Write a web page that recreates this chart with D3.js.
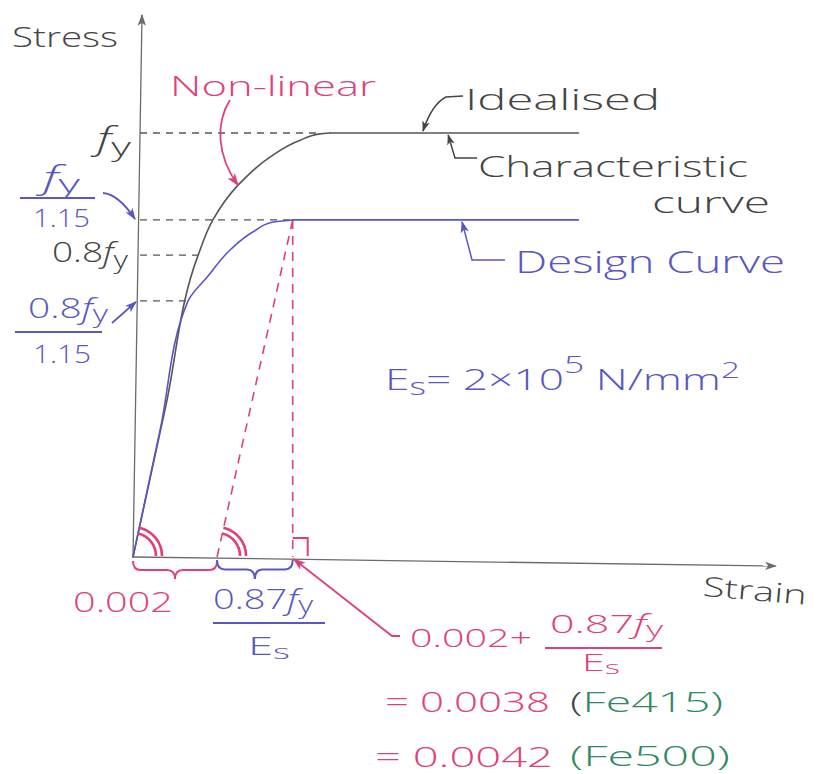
<!DOCTYPE html>
<html>
<head>
<meta charset="utf-8">
<script src="https://cdn.jsdelivr.net/npm/d3@7"></script>
<style>
  html, body { margin: 0; padding: 0; background: #ffffff; }
  svg { display: block; }
  text { font-family: "Open Sans", "Lato", "DejaVu Sans", sans-serif; font-weight: 300; }
</style>
</head>
<body>
<svg id="chart" width="823" height="774"></svg>
<script>
// Stress–strain curves for reinforcing steel (stress in units of fy, strain absolute)
const charStrain   = [0, 0.00078, 0.00155, 0.00190, 0.00250, 0.00326, 0.00398, 0.00445, 0.00469, 0.0106];
const charStress   = [0, 0.356,   0.712,   0.795,   0.877,   0.943,   0.983,   0.998,   1.0,     1.0];
const designStrain = [0, 0.00065, 0.00131, 0.00178, 0.00231, 0.00286, 0.00333, 0.0038, 0.0106];
const designStress = [0, 0.302,   0.604,   0.662,   0.724,   0.767,   0.790,   0.795,  0.795];

// Stress reference levels on the vertical axis and where their guide lines stop
const stressLevels   = [1.0, 0.795, 0.712, 0.604];
const stressGuideEnd = [0.00445, 0.0038, 0.00155, 0.00131];

// Strain marks on the horizontal axis
const offsetStrain  = 0.002;   // 0.002 offset
const yieldStrain   = 0.0038;  // 0.002 + 0.87fy/Es for Fe415
const strainAxisMax = 0.0153;

const COL = {
  axis: "#6b6b6b", ink: "#444444", red: "#e0407a", blue: "#5a56c2", green: "#2f8a62"
};

const svg = d3.select("#chart");
const x = d3.scaleLinear().domain([0, strainAxisMax]).range([133, 776]);
const y = d3.scaleLinear().domain([0, 1]).range([557, 133]);

// arrowhead markers
const defs = svg.append("defs");
function marker(id, color, size) {
  defs.append("marker").attr("id", id)
    .attr("viewBox", "0 0 10 10").attr("refX", 9).attr("refY", 5)
    .attr("markerWidth", size).attr("markerHeight", size)
    .attr("markerUnits", "userSpaceOnUse").attr("orient", "auto")
    .append("path").attr("d", "M0,1.5 L10,5 L0,8.5 L2.5,5 Z").attr("fill", color);
}
marker("arGray", COL.axis, 12);
marker("arInk", COL.ink, 11);
marker("arRed", COL.red, 13);
marker("arBlue", COL.blue, 12);

// axes
svg.append("line")
  .attr("x1", x(0)).attr("y1", y(0)).attr("x2", x(0) + 9).attr("y2", 15)
  .attr("stroke", COL.axis).attr("stroke-width", 1.3).attr("marker-end", "url(#arGray)");
svg.append("line")
  .attr("x1", x(0)).attr("y1", y(0)).attr("x2", x(strainAxisMax)).attr("y2", y(0) + 9)
  .attr("stroke", COL.axis).attr("stroke-width", 1.3).attr("marker-end", "url(#arGray)");

// dashed stress guides
stressLevels.forEach((s, i) => {
  svg.append("line")
    .attr("x1", x(0) + 7).attr("x2", x(stressGuideEnd[i]))
    .attr("y1", y(s)).attr("y2", y(s))
    .attr("stroke", "#555").attr("stroke-width", 1.3)
    .attr("stroke-dasharray", "7,6");
});

// construction lines for the design yield strain
const designYieldStress = d3.max(designStress);
svg.append("line")
  .attr("x1", x(offsetStrain)).attr("y1", y(0))
  .attr("x2", x(yieldStrain)).attr("y2", y(designYieldStress))
  .attr("stroke", COL.red).attr("stroke-width", 1.6).attr("stroke-dasharray", "9,7");
svg.append("line")
  .attr("x1", x(yieldStrain)).attr("y1", y(designYieldStress))
  .attr("x2", x(yieldStrain)).attr("y2", y(0))
  .attr("stroke", COL.red).attr("stroke-width", 1.6).attr("stroke-dasharray", "9,7");

// curves: the rising branch is smoothed along the stress direction,
// the yield plateau is a straight run
const rising = d3.line().x(d => x(d[0])).y(d => y(d[1])).curve(d3.curveMonotoneY);
const flat = d3.line().x(d => x(d[0])).y(d => y(d[1]));
function drawCurve(strain, stress, color) {
  const pts = strain.map((e, i) => [e, stress[i]]);
  const top = stress.indexOf(d3.max(stress));
  const g = svg.append("g").attr("fill", "none").attr("stroke", color)
    .attr("stroke-width", 1.6).attr("stroke-linecap", "round");
  g.append("path").attr("d", rising(pts.slice(0, top + 1)));
  g.append("path").attr("d", flat(pts.slice(top)));
}
drawCurve(charStrain, charStress, "#555");
drawCurve(designStrain, designStress, COL.blue);

// angle marks (equal slopes)
[0, offsetStrain].forEach(e => {
  [23, 29].forEach(r => {
    svg.append("path")
      .attr("transform", `translate(${x(e)},${y(0) - 1})`)
      .attr("d", d3.arc()({innerRadius: r, outerRadius: r, startAngle: 0.22, endAngle: Math.PI / 2}))
      .attr("fill", "none").attr("stroke", COL.red).attr("stroke-width", 2.6);
  });
});
// right-angle mark
svg.append("path")
  .attr("d", `M${x(yieldStrain)},${y(0) - 19} H${x(yieldStrain) + 15} V${y(0) - 1}`)
  .attr("fill", "none").attr("stroke", COL.red).attr("stroke-width", 2);

// braces under the strain axis
function bracePath(x1, x2, yTop, h) {
  const mx = (x1 + x2) / 2, q = h * 0.5;
  return `M${x1},${yTop} Q${x1},${yTop + q} ${x1 + 8},${yTop + q} L${mx - 8},${yTop + q}` +
         ` Q${mx},${yTop + q} ${mx},${yTop + h} Q${mx},${yTop + q} ${mx + 8},${yTop + q}` +
         ` L${x2 - 8},${yTop + q} Q${x2},${yTop + q} ${x2},${yTop}`;
}
svg.append("path").attr("d", bracePath(x(0), x(offsetStrain), y(0) + 4, 18))
  .attr("fill", "none").attr("stroke", COL.red).attr("stroke-width", 2);
svg.append("path").attr("d", bracePath(x(offsetStrain), x(yieldStrain), y(0) + 3, 19))
  .attr("fill", "none").attr("stroke", COL.blue).attr("stroke-width", 2);

// text helper: segs = [[text, dy, scale, italic, colour]]
function label(px, py, size, color, segs, len) {
  const t = svg.append("text").attr("x", px).attr("y", py)
    .attr("font-size", size).attr("fill", color);
  segs.forEach(s => {
    const ts = t.append("tspan").text(s[0]);
    if (s[1]) ts.attr("dy", s[1]);
    if (s[2]) ts.attr("font-size", size * s[2]);
    if (s[3]) ts.attr("font-style", "italic");
    if (s[4]) ts.attr("fill", s[4]);
  });
  if (len) t.attr("textLength", len).attr("lengthAdjust", "spacingAndGlyphs");
  return t;
}
function rule(x1, x2, yy, color) {
  svg.append("line").attr("x1", x1).attr("x2", x2).attr("y1", yy).attr("y2", yy)
    .attr("stroke", color).attr("stroke-width", 1.8);
}

// axis titles
label(12, 47, 27, COL.ink, [["Stress"]], 106);
label(702, 600, 27, COL.ink, [["Strain"]], 104).attr("transform", "rotate(5 750 600)");

// stress level labels
label(97, 150, 31, COL.ink, [["f", 0, 0, true], ["y", 6, 0.85]], 34);
label(43, 189, 31, COL.blue, [["f", 0, 0, true], ["y", 4, 0.85]], 37);
rule(20, 95, 198, COL.blue);
label(33, 227, 26, COL.blue, [["1.15"]], 57);
svg.append("path").attr("d", `M103,193 Q118,194 ${x(0) + 2},${y(stressLevels[1]) - 1}`)
  .attr("fill", "none").attr("stroke", COL.blue).attr("stroke-width", 1.8).attr("marker-end", "url(#arBlue)");
label(52, 262, 27, COL.ink, [["0.8"], ["f", 0, 0, true], ["y", 6, 0.85]], 76);
label(28, 318, 27, COL.blue, [["0.8"], ["f", 0, 0, true], ["y", 4, 0.85]], 80);
rule(15, 102, 332, COL.blue);
label(33, 363, 26, COL.blue, [["1.15"]], 58);
svg.append("path").attr("d", `M112,323 L${x(0) + 3},${y(stressLevels[3]) + 1}`)
  .attr("fill", "none").attr("stroke", COL.blue).attr("stroke-width", 1.8).attr("marker-end", "url(#arBlue)");

// curve annotations
label(170, 96, 28, COL.red, [["Non-linear"]], 206);
svg.append("path").attr("d", `M230,100 C216,122 216,155 ${x(0.0025)},${y(0.877)}`)
  .attr("fill", "none").attr("stroke", COL.red).attr("stroke-width", 1.8).attr("marker-end", "url(#arRed)");

label(465, 110, 30, COL.ink, [["Idealised"]], 195);
svg.append("path").attr("d", `M463,96 L446,97 Q432,104 ${x(0.0069)},${y(1.0) - 2}`)
  .attr("fill", "none").attr("stroke", COL.ink).attr("stroke-width", 1.5).attr("marker-end", "url(#arInk)");

label(478, 177, 30, COL.ink, [["Characteristic"]], 270);
label(652, 213, 30, COL.ink, [["curve"]], 118);
svg.append("path").attr("d", `M477,158 L455,158 L${x(0.0075)},${y(1.0) + 2}`)
  .attr("fill", "none").attr("stroke", COL.ink).attr("stroke-width", 1.5).attr("marker-end", "url(#arInk)");

label(515, 273, 31, COL.blue, [["Design Curve"]], 270);
svg.append("path").attr("d", `M505,260 L472,260 L${x(0.00783)},${y(designYieldStress) + 2}`)
  .attr("fill", "none").attr("stroke", COL.blue).attr("stroke-width", 1.5).attr("marker-end", "url(#arBlue)");

// modulus of elasticity
label(385, 390, 30, COL.blue,
  [["E"], ["s", 5, 0.8], ["= 2×10", -5], ["5", -17, 0.8], [" N/mm", 17], ["2", -12, 0.75]], 355);

// strain labels
label(73, 612, 27, COL.red, [["0.002"]], 100);
label(213, 609, 27, COL.blue, [["0.87"], ["f", 0, 0, true], ["y", 4, 0.85]], 100);
rule(213, 325, 623, COL.blue);
label(248, 655, 26, COL.blue, [["E"], ["s", 4, 0.8]], 42);

// design yield strain callout
svg.append("path").attr("d", `M400,636 L392,636 L${x(yieldStrain) + 1},${y(0) + 2}`)
  .attr("fill", "none").attr("stroke", COL.red).attr("stroke-width", 1.8).attr("marker-end", "url(#arRed)");
label(410, 647, 26, COL.red, [["0.002+"]], 122);
label(550, 633, 26, COL.red, [["0.87"], ["f", 0, 0, true], ["y", 4, 0.85]], 113);
rule(545, 662, 648, COL.red);
label(582, 671, 23, COL.red, [["E"], ["s", 3, 0.8]], 38);

label(385, 712, 28, COL.red, [["= 0.0038"]], 165);
label(570, 712, 28, COL.green, [["(", 0, 0, false, COL.ink], ["Fe415)"]], 153);
label(375, 767, 28, COL.red, [["= 0.0042"]], 178);
label(570, 766, 28, COL.green, [["(Fe500)"]], 160);
</script>
</body>
</html>
